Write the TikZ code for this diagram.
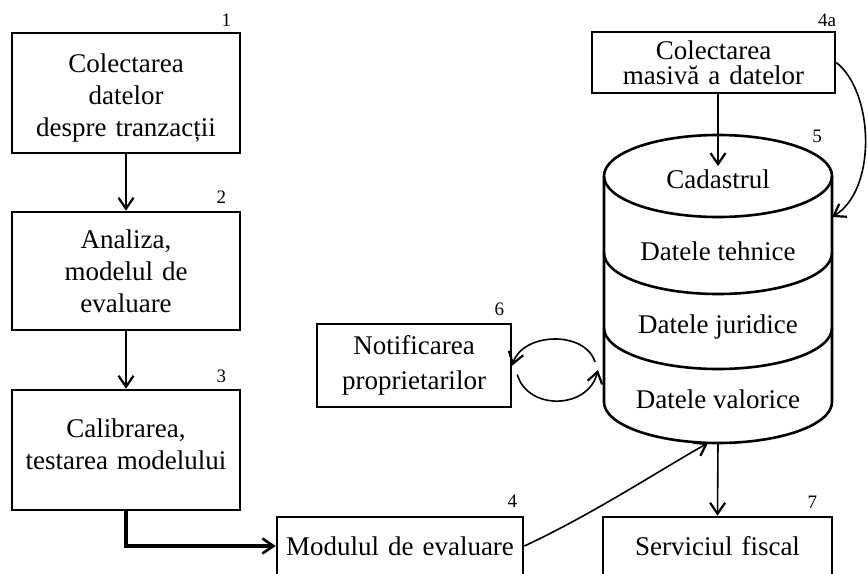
\documentclass[tikz,border=0pt]{standalone}
\usepackage{fontspec}
\setmainfont{Liberation Serif}
\usepackage{tikz}
\usetikzlibrary{arrows.meta,calc}
\usetikzlibrary{positioning}
\newcommand{\boxfont}{\fontsize{27}{32}\selectfont}
\newcommand{\numfont}{\fontsize{19}{21}\selectfont}
\tikzstyle{block} = [rectangle, draw, line width=2.6pt,
    text width=228pt, align=center, inner sep=0pt, font=\boxfont]
\tikzstyle{numlabel} = [
    inner sep=0pt, anchor=base east, font=\numfont]
\tikzstyle{celltext} = [
    inner sep=0pt, anchor=base, font=\boxfont]
\tikzstyle{cyl} = [draw, line width=2.6pt]
\tikzstyle{line} = [draw, -{Straight Barb[length=11pt,width=15pt,line width=2.2pt]}, line width=1.6pt]
\tikzstyle{thickline} = [draw, -{Straight Barb[length=11pt,width=15pt,line width=2.6pt]}, line width=3.6pt]

\begin{document}
\begin{tikzpicture}[x=1pt, y=-1pt, node distance=59pt, auto]
    \useasboundingbox (0,0) rectangle (867,573);
    \clip (0,0) rectangle (867,573);
    % Place nodes
    \node [block, minimum height=120pt] (coltranz) at (126,93) {\rule{0pt}{28pt}Colectarea\\ datelor\\ despre tranzacții};
    \node [block, minimum height=118pt, below=56.4pt of coltranz] (analiza) {Analiza,\\ modelul de\\ evaluare};
    \node [block, minimum height=120pt, below=57.4pt of analiza] (calib) {Calibrarea,\\ testarea modelului\rule[-11pt]{0pt}{11pt}};
    \node [block, text width=246pt, minimum height=58pt] (modeval) at (400,546) {Modulul de evaluare};
    \node [block, text width=243pt, minimum height=61pt] (colmas) at (713.5,62.5) {Colectarea\\[-7pt] masivă a datelor};
    \node [block, text width=194pt, minimum height=83pt] (notif) at (414,365.5) {Notificarea\\[3pt] proprietarilor};
    \node [block, text width=229pt, minimum height=58pt] (serv) at (717.5,546) {Serviciul fiscal};

    % Cylinder
    \path [cyl] (604,176) -- (604,402) arc [start angle=180, end angle=360, x radius=114pt, y radius=41pt] -- (832,176);
    \path [cyl] (718,176) ellipse [x radius=114pt, y radius=41pt];
    \path [cyl] (604,253) arc [start angle=180, end angle=360, x radius=114pt, y radius=41pt];
    \path [cyl] (604,328) arc [start angle=180, end angle=360, x radius=114pt, y radius=41pt];
    \node [celltext] (cad) at (718,188) {Cadastrul};
    \node [celltext] (teh) at (718,260) {Datele tehnice};
    \node [celltext] (jur) at (718,333) {Datele juridice};
    \node [celltext] (val) at (718,408) {Datele valorice};
    \coordinate (cylright) at (832,217);
    \coordinate (valout) at (595,362);
    \coordinate (valin) at (598,370);
    \coordinate (valbot) at (708,443);
    \coordinate (cylbot) at (718,443);

    % Numbers
    \node [numlabel] (n1) at ([xshift=-10pt,yshift=5pt]coltranz.north east) {1};
    \node [numlabel] (n2) at ([xshift=-15pt,yshift=7pt]analiza.north east) {2};
    \node [numlabel] (n3) at ([xshift=-15pt,yshift=6pt]calib.north east) {3};
    \node [numlabel] (n4) at ([xshift=-7pt,yshift=8pt]modeval.north east) {4};
    \node [numlabel] (n4a) at ([yshift=4pt]colmas.north east) {4a};
    \node [numlabel] (n5) at (822,142) {5};
    \node [numlabel] (n6) at ([xshift=-8pt,yshift=7pt]notif.north east) {6};
    \node [numlabel] (n7) at ([xshift=-16pt,yshift=7pt]serv.north east) {7};

    \path [line] (coltranz) -- (analiza);
    \path [line] (analiza) -- (calib);
    \path [thickline] (calib.south) |- (modeval.west);
    \path [line] (cad.north |- colmas.south) -- ([yshift=3pt]cad.north);
    \path [line] (colmas.east) .. controls +(38,30) and +(45,-27) .. (cylright);
    \path [line] (valout) .. controls +(-10,-32) and +(10,-33) .. (notif.east);
    \path [line] ($(notif.east)+(5,9)$) .. controls +(10,36) and +(-10,40) .. (valin);
    \path [line] (modeval.east) .. controls +(67,-31) and +(-48,27) .. (valbot);
    \path [line] (cylbot) -- (serv.north);

\end{tikzpicture}
\end{document}
